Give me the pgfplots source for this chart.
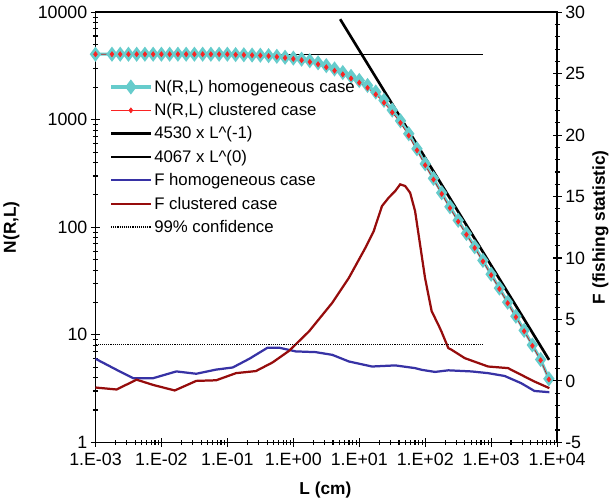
\documentclass[border=0pt]{standalone}
\usepackage{fontspec}
\setmainfont{Liberation Sans}
\usepackage{pgfplots}
\pgfplotsset{compat=1.18}
\usepackage{pgfplotstable}

\definecolor{ncyan}{RGB}{102,204,204}
\definecolor{nred}{RGB}{250,35,35}
\definecolor{fblue}{RGB}{55,50,165}
\definecolor{fred}{RGB}{150,12,12}

\pgfplotsset{legend image code/.code={\draw[#1] (0pt,0pt) -- (39pt,0pt); \draw[#1] plot coordinates {(19.5pt,0pt)};}}

\pgfplotstableread{
L Nh Nc
0.001 4067 4067
0.001778 4067 4067
0.002371 4067 4067
0.003162 4067 4067
0.004217 4067 4067
0.005623 4067 4067
0.007499 4067 4067
0.01 4067 4067
0.01334 4067 4067
0.01778 4067 4067
0.02371 4067 4067
0.03162 4067 4067
0.04217 4067 4067
0.05623 4067 4067
0.07499 4067 4067
0.1 4067 4067
0.1334 4036 4030
0.1778 4018 4010
0.2371 3999 3985
0.3162 3981 3960
0.4217 3945 3915
0.5623 3890 3850
0.7499 3811 3760
1 3741 3680
1.334 3656 3580
1.778 3540 3450
2.371 3381 3280
3.162 3184 3080
4.217 2965 2860
5.623 2748 2640
7.499 2529 2420
10 2317 2210
13.34 2084 1980
17.78 1811 1720
23.71 1514 1440
31.62 1230 1170
42.17 977 935
56.23 741 712
74.99 537 520
100 389 378
133.4 285 278
177.8 209 204
237.1 155 151
316.2 116 113
421.7 87.5 85.5
562.3 65.8 64.3
749.9 49.2 48.2
1000 36.6 35.9
1334 27.2 26.7
1778 20.1 19.7
2371 14.9 14.6
3162 11.0 10.8
4217 8.04 7.9
5623 5.89 5.8
7499 3.9 3.85
}\Ntab

\pgfplotstableread{
L F
0.001 1.80
0.002094 0.90
0.003741 0.22
0.007499 0.22
0.01683 0.77
0.03373 0.58
0.06761 0.92
0.1205 1.09
0.2153 1.80
0.4064 2.70
0.6109 2.70
1.086 2.40
2.178 2.34
3.890 2.12
6.950 1.58
15.60 1.17
35.08 1.26
70.15 1.04
88.51 0.90
140.6 0.73
223.9 0.86
502.3 0.77
897.4 0.63
1600 0.40
2858 -0.19
4529 -0.82
7621 -0.92
}\Fhom

\pgfplotstableread{
L F
0.001 -0.54
0.002094 -0.70
0.004198 0.10
0.007499 -0.33
0.01592 -0.78
0.03373 0.00
0.06761 0.05
0.1352 0.63
0.2710 0.80
0.4842 1.50
0.8650 2.45
1.730 4.03
3.890 6.35
6.950 8.38
12.36 10.82
16.56 12.19
22.08 14.22
27.86 14.90
35.08 15.45
41.69 15.99
49.55 15.86
59.02 15.31
70.15 13.82
83.56 11.09
99.31 8.38
125.3 5.66
158.1 4.57
177.4 3.98
223.9 2.67
251.2 2.53
398.1 1.85
897.4 1.17
1799 1.04
2858 0.49
4529 -0.05
7621 -0.59
}\Fclu

\begin{document}
\begin{tikzpicture}
\begin{axis}[name=ax,
  width=454pt, height=423pt, scale only axis,
  xmode=log, xmin=1e-3, xmax=1e4,
  ymode=log, ymin=1, ymax=10000,
  /pgf/number format/assume math mode=true,
  tick align=center, major tick length=9pt, minor tick length=5pt,
  every tick/.append style={black, line width=1.1pt},
  axis line style={line width=1.6pt},
  tick label style={font=\fontsize{17.5}{20}\selectfont},
  x tick label style={yshift=-3pt},
  xtick={1e-3,1e-2,1e-1,1,10,100,1000,10000},
  xticklabels={1.E-03,1.E-02,1.E-01,1.E+00,1.E+01,1.E+02,1.E+03,1.E+04},
  minor xtick={2e-3,3e-3,4e-3,5e-3,6e-3,7e-3,8e-3,9e-3,
    2e-2,3e-2,4e-2,5e-2,6e-2,7e-2,8e-2,9e-2,
    0.2,0.3,0.4,0.5,0.6,0.7,0.8,0.9,
    2,3,4,5,6,7,8,9,
    20,30,40,50,60,70,80,90,
    200,300,400,500,600,700,800,900,
    2000,3000,4000,5000,6000,7000,8000,9000},
  ytick={1,10,100,1000,10000},
  yticklabels={1,10,100,1000,10000},
  minor ytick={2,3,4,5,6,7,8,9,20,30,40,50,60,70,80,90,
    200,300,400,500,600,700,800,900,2000,3000,4000,5000,6000,7000,8000,9000},
  xtick pos=bottom, ytick pos=left,
  xlabel={L (cm)}, ylabel={N(R,L)},
  x label style={at={(axis description cs:0.498,-0.112)}, anchor=center, font=\fontsize{17}{20}\selectfont\bfseries},
  y label style={at={(axis description cs:-0.182,0.5)}, anchor=center, font=\fontsize{17}{20}\selectfont\bfseries},
]
\addplot[black, line width=1.3pt] coordinates {(0.001,4067) (760,4067)};
\addplot[black, line width=2.6pt] coordinates {(5.13,8610) (7550,5.85)};
\addplot[ncyan, line width=3pt, mark=diamond*, mark size=5pt, mark options={solid, fill=ncyan, draw=ncyan}] table[x=L, y=Nh] {\Ntab};
\addplot[nred!80!black, line width=0.7pt, mark=diamond*, mark size=2.4pt, mark options={solid, fill=nred, draw=nred}] table[x=L, y=Nc] {\Ntab};
\end{axis}

\begin{axis}[
  width=454pt, height=423pt, scale only axis,
  xmode=log, xmin=1e-3, xmax=1e4,
  ymin=-5, ymax=30, ytick={-5,0,5,10,15,20,25,30}, minor y tick num=4,
  /pgf/number format/assume math mode=true,
  tick align=center, major tick length=9pt, minor tick length=5pt,
  every tick/.append style={black, line width=1.1pt},
  axis line style={line width=1.6pt},
  tick label style={font=\fontsize{17.5}{20}\selectfont},
  axis y line*=right, axis x line=none,
  ylabel={F (fishing statistic)},
  y label style={at={(axis description cs:1.094,0.5)}, anchor=center, font=\fontsize{17}{20}\selectfont\bfseries},
  legend cell align=left,
  legend style={at={(axis description cs:0.03,0.852)}, anchor=north west, draw=none, fill=none,
    font=\fontsize{16.5}{19}\selectfont, row sep=5.5pt, inner xsep=0pt},
]
\addlegendimage{ncyan, line width=3pt, mark=diamond*, mark size=5pt, mark options={solid, fill=ncyan, draw=ncyan}}
\addlegendentry{N(R,L) homogeneous case}
\addlegendimage{nred, line width=0.7pt, mark=diamond*, mark size=2.4pt, mark options={solid, fill=nred, draw=nred}}
\addlegendentry{N(R,L) clustered case}
\addlegendimage{black, line width=2.6pt}
\addlegendentry{4530 x L\^{}(-1)}
\addlegendimage{black, line width=1.3pt}
\addlegendentry{4067 x L\^{}(0)}
\addplot[fblue, line width=2.2pt] table[x=L, y=F] {\Fhom};
\addlegendentry{F homogeneous case}
\addplot[fred, line width=2.2pt] table[x=L, y=F] {\Fclu};
\addlegendentry{F clustered case}
\addplot[black, line width=1.1pt, densely dotted] coordinates {(0.001,2.95) (760,2.95)};
\addlegendentry{99\% confidence}
\end{axis}
\path ([yshift=12pt]ax.north);
\end{tikzpicture}
\end{document}
